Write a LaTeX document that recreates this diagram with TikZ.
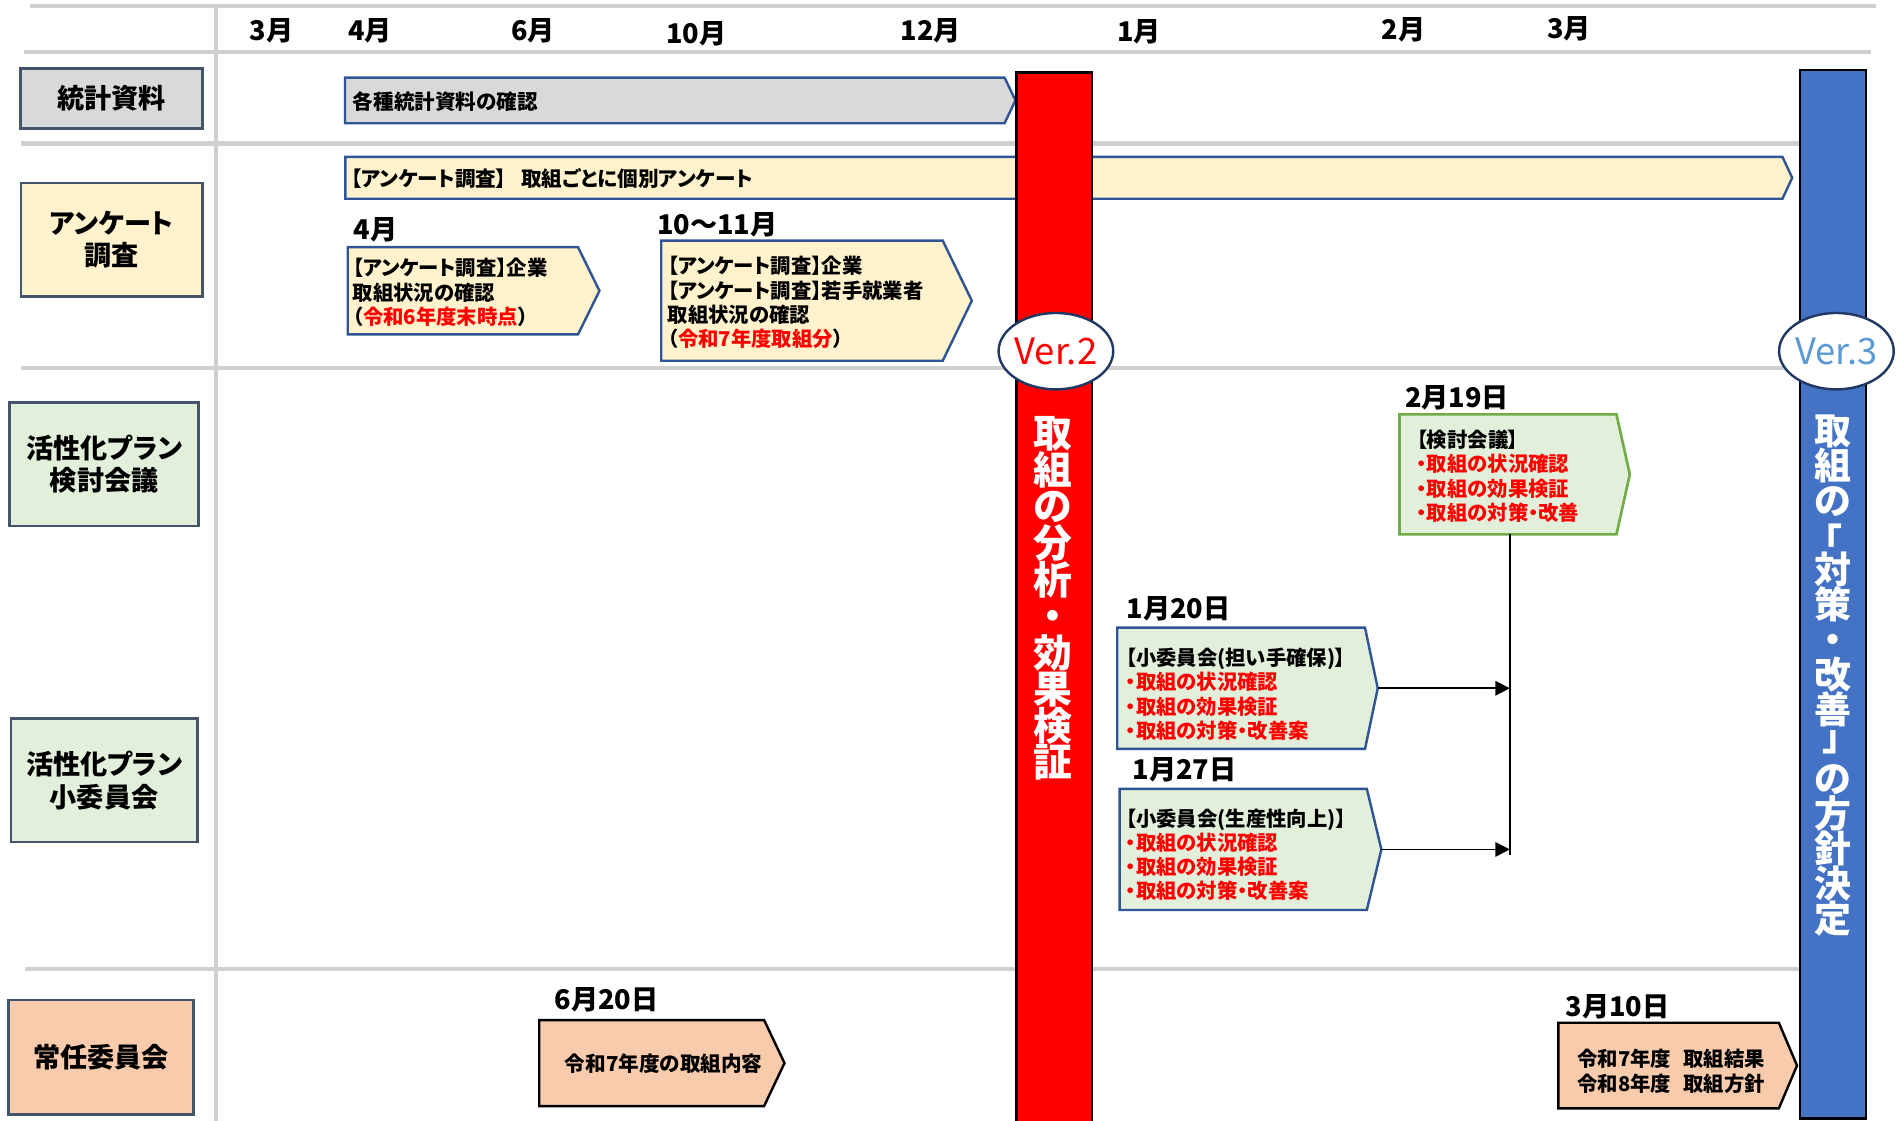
\documentclass[tikz,border=0pt]{standalone}
\usepackage{fontspec}
\setmainfont{Noto Sans CJK JP}[RawFeature=+palt]
\usetikzlibrary{arrows.meta}
\definecolor{sepgray}{RGB}{208,208,208}
\definecolor{slate}{RGB}{68,84,106}
\definecolor{boxblue}{RGB}{47,85,151}
\definecolor{fgray}{RGB}{217,217,217}
\definecolor{fyellow}{RGB}{255,242,204}
\definecolor{fgreen}{RGB}{226,239,218}
\definecolor{fpeach}{RGB}{248,203,173}
\definecolor{bgreen}{RGB}{112,173,71}
\definecolor{barblue}{RGB}{68,114,196}
\definecolor{navy}{RGB}{31,56,100}
\definecolor{lblue}{RGB}{91,155,213}
\definecolor{pred}{RGB}{255,0,0}
\newcommand\chevshape[6]{\path[#1] (#2,#3) -- (#4,#3) -- (#5,{(#3+#6)/2}) -- (#4,#6) -- (#2,#6) -- cycle;}
\newcommand\rd[1]{\textcolor{pred}{#1}}
\newcommand\tightls{\lineskiplimit-100pt\relax}
\newcommand\vopen{\makebox[0pt][c]{\raisebox{-0.17em}{「}}}
\newcommand\vclose{\makebox[0pt][c]{\raisebox{0.2em}{」}}}
\tikzset{
  sepline/.style={draw=sepgray, line width=3.5pt},
  lab/.style={draw=slate, line width=2.2pt, align=center, inner sep=0pt,
    font=\fontsize{22.4}{27}\selectfont\bfseries},
  month/.style={inner sep=0pt, font=\fontsize{22.4}{26}\selectfont\bfseries},
  bartext/.style={anchor=west, inner sep=0pt, font=\fontsize{17}{20}\selectfont\bfseries},
  boxtext/.style={anchor=west, align=left, inner sep=0pt,
    font=\fontsize{16.8}{20}\selectfont\bfseries\tightls},
  bluebox/.style={draw=boxblue, line width=2pt},
  blackbox/.style={draw=black, line width=2pt},
  greenbox/.style={draw=bgreen, line width=2.2pt},
  vtext/.style={text=white, align=center, inner sep=0pt},
  verell/.style={draw=navy, fill=white, line width=2pt},
  conn/.style={draw=black, line width=1.4pt, -{Triangle[length=12pt,width=12pt]}},
  vline/.style={draw=black, line width=1.2pt}
}
\begin{document}
\begin{tikzpicture}[x=1pt,y=-1pt]
\clip (0,0) rectangle (1568,925);
\fill[white] (0,0) rectangle (1568,925);
% grid lines
\coordinate (g1a) at (25,5);   \coordinate (g1b) at (1548,5);
\coordinate (g2a) at (20,43);  \coordinate (g2b) at (1544,43);
\coordinate (g3a) at (17,118.5); \coordinate (g3b) at (1486,118.5);
\coordinate (g4a) at (17,303.5); \coordinate (g4b) at (1486,303.5);
\coordinate (g5a) at (21,799.5); \coordinate (g5b) at (1487,799.5);
\coordinate (gva) at (178,5);  \coordinate (gvb) at (178,930);
\draw[sepline] (g1a) -- (g1b);
\draw[sepline] (g2a) -- (g2b);
\draw[sepline] (g3a) -- (g3b);
\draw[sepline] (g4a) -- (g4b);
\draw[sepline] (g5a) -- (g5b);
\draw[sepline] (gva) -- (gvb);
% months
\node[month] (m3) at (224,25) {3月};
\node[month] (m4) at (305.5,25) {4月};
\node[month] (m6) at (440,25) {6月};
\node[month] (m10) at (574.6,27.5) {10月};
\node[month] (m12) at (768,25) {12月};
\node[month] (m1) at (940,26) {1月};
\node[month] (m2) at (1158.5,24.2) {2月};
\node[month] (m3b) at (1295,24) {3月};
% left labels
\node[lab, fill=fgray, minimum width=150pt, minimum height=49.6pt] (L1) at (91.9,81.2) {統計資料};
\node[lab, fill=fyellow, minimum width=149.6pt, minimum height=93.5pt] (L2) at (92.2,197.7) {アンケート\\調査};
\node[lab, fill=fgreen, minimum width=156pt, minimum height=102pt] (L3) at (86,383) {活性化プラン\\検討会議};
\node[lab, fill=fgreen, minimum width=153.7pt, minimum height=102pt] (L4) at (85.9,644) {活性化プラン\\小委員会};
\node[lab, fill=fpeach, minimum width=153pt, minimum height=94.3pt] (L5) at (83.4,872.5) {常任委員会};
% bars
\chevshape{bluebox, fill=fgray}{284.7}{64}{829}{838}{101.7}
\node[bartext] (b1) at (291,84) {各種統計資料の確認};
\chevshape{bluebox, fill=fyellow}{285}{129.5}{1471}{1479}{164}
\node[bartext] (b2) at (289.5,147.5) {【アンケート調査】\hspace{0.7em}取組ごとに個別アンケート};
% survey boxes
\node[month] (d4) at (310,190) {4月};
\chevshape{bluebox, fill=fyellow}{287}{204}{477}{494.7}{276}
\node[boxtext] (s1) at (291,241.4) {【アンケート調査】企業\\取組状況の確認\\（\rd{令和6年度末時点}）};
\node[month] (d1011) at (592,185.7) {10～11月};
\chevshape{bluebox, fill=fyellow}{545.7}{198.6}{778}{802}{297.7}
\node[boxtext] (s2) at (551,249.6) {【アンケート調査】企業\\【アンケート調査】若手就業者\\取組状況の確認\\（\rd{令和7年度取組分}）};
% committee boxes
\node[month] (d219) at (1202.5,328) {2月19日};
\chevshape{greenbox, fill=fgreen}{1155}{342}{1334}{1345}{441}
\node[boxtext] (k1) at (1169,393) {【検討会議】\\\rd{・取組の状況確認}\\\rd{・取組の効果検証}\\\rd{・取組の対策・改善}};
\node[month] (d120) at (972.5,502.5) {1月20日};
\chevshape{bluebox, fill=fgreen}{922}{518}{1126.5}{1137}{618}
\node[boxtext] (c1) at (929,573) {【小委員会(担い手確保)】\\\rd{・取組の状況確認}\\\rd{・取組の効果検証}\\\rd{・取組の対策・改善案}};
\node[month] (d127) at (977.5,635.5) {1月27日};
\chevshape{bluebox, fill=fgreen}{924}{651}{1128}{1140}{751}
\node[boxtext] (c2) at (929,705.4) {【小委員会(生産性向上)】\\\rd{・取組の状況確認}\\\rd{・取組の効果検証}\\\rd{・取組の対策・改善案}};
% connectors
\coordinate (vtop) at (1246,441);
\coordinate (vbot) at (1246,706);
\draw[vline] (vtop) -- (vbot);
\coordinate (t120) at (1137,568);
\coordinate (e120) at (1246,568);
\coordinate (t127) at (1140,701);
\coordinate (e127) at (1246,701);
\draw[conn] (t120) -- (e120);
\draw[conn] (t127) -- (e127);
% standing committee
\node[month] (d620) at (500.7,824.7) {6月20日};
\chevshape{blackbox, fill=fpeach}{445}{841.8}{630.6}{647.4}{912.8}
\node[bartext] (p1) at (466,878) {令和7年度の取組内容};
% red bar
\path[draw=black, line width=2pt, fill=pred] (839,60) rectangle (901,935);
\node[vtext, font=\fontsize{32}{30.2}\selectfont\bfseries\tightls] (vred) at (869,494) {取\\組\\の\\分\\析\\・\\効\\果\\検\\証};
% blue bar
\path[draw=black, line width=2pt, fill=barblue] (1485.5,58) rectangle (1540,923);
\node[vtext, font=\fontsize{30.5}{28.75}\selectfont\bfseries\tightls] (vblue) at (1512.5,557.5) {取\\組\\の\\\vopen\\対\\策\\・\\改\\善\\\vclose\\の\\方\\針\\決\\定};
\node[month] (d310) at (1334.8,830.8) {3月10日};
\chevshape{blackbox, fill=fpeach}{1286}{844}{1468}{1483}{914.7}
\node[boxtext, font=\fontsize{16.8}{21.2}\selectfont\bfseries] (p2) at (1301.5,884) {令和7年度\hspace{0.6em}取組結果\\令和8年度\hspace{0.6em}取組方針};
% version ellipses
\draw[verell] (871.4,289.8) ellipse [x radius=47.3, y radius=31.5];
\node[inner sep=0pt, text=pred, font=\fontsize{30}{32}\selectfont] (v2) at (871.4,290) {Ver.2};
\draw[verell] (1515.5,289.8) ellipse [x radius=47.3, y radius=31.5];
\node[inner sep=0pt, text=lblue, font=\fontsize{30}{32}\selectfont] (v3) at (1515.5,290) {Ver.3};
\end{tikzpicture}
\end{document}
